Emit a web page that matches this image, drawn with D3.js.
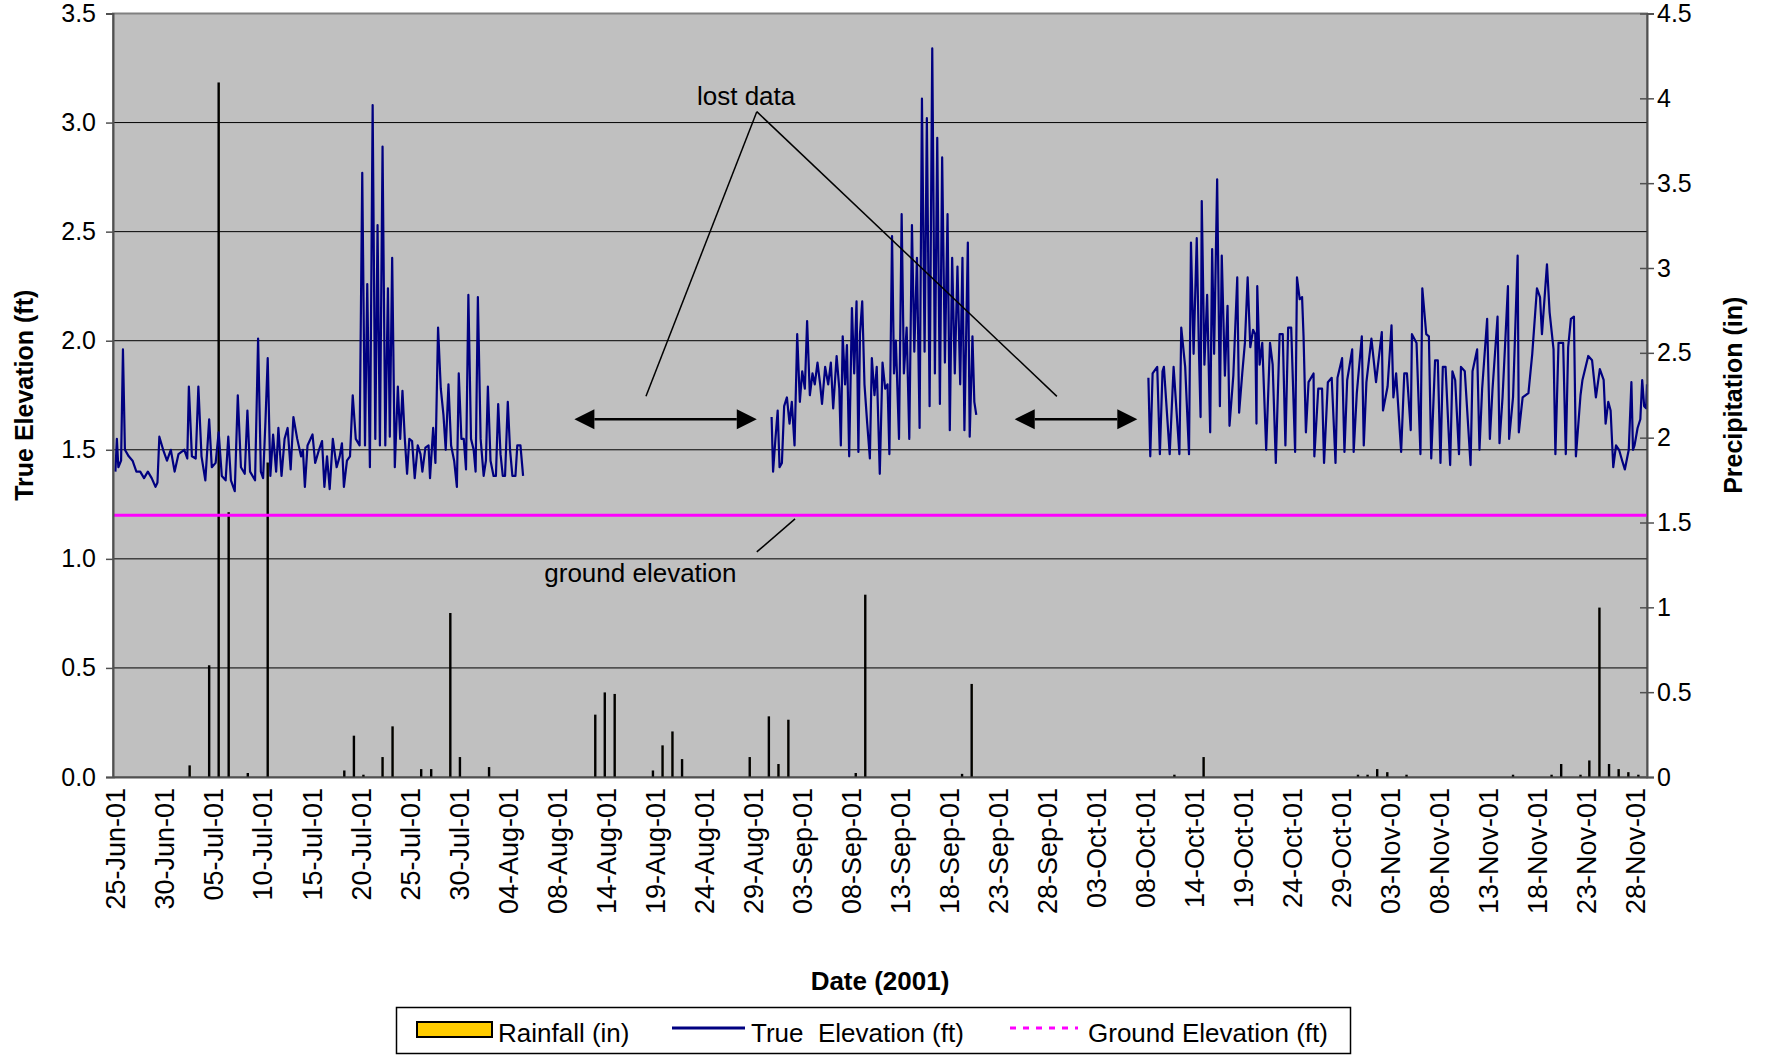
<!DOCTYPE html>
<html>
<head>
<meta charset="utf-8">
<script src="https://cdn.jsdelivr.net/npm/d3@7"></script>
<style>
  body { margin: 0; background: #fff; }
  text { font-family: "Liberation Sans", Arial, sans-serif; fill: #000; }
</style>
</head>
<body>
<div id="chart"></div>
<script>
// x positions are "days since 25-Jun-01" as laid out on the category axis
const dateLabels = ["25-Jun-01","30-Jun-01","05-Jul-01","10-Jul-01","15-Jul-01","20-Jul-01","25-Jul-01","30-Jul-01",
  "04-Aug-01","08-Aug-01","14-Aug-01","19-Aug-01","24-Aug-01","29-Aug-01","03-Sep-01","08-Sep-01","13-Sep-01",
  "18-Sep-01","23-Sep-01","28-Sep-01","03-Oct-01","08-Oct-01","14-Oct-01","19-Oct-01","24-Oct-01","29-Oct-01",
  "03-Nov-01","08-Nov-01","13-Nov-01","18-Nov-01","23-Nov-01","28-Nov-01"];

// true elevation (ft), three recorded stretches separated by lost data
const elevSeg1 = [[0.00,1.40],[0.15,1.55],[0.30,1.42],[0.58,1.45],[0.77,1.96],[0.97,1.50],[1.36,1.47],[1.75,1.45],[2.14,1.40],[2.53,1.40],[2.92,1.37],[3.31,1.40],[3.70,1.37],[4.09,1.33],[4.29,1.35],[4.48,1.56],[4.87,1.50],[5.26,1.45],[5.65,1.50],[6.04,1.40],[6.43,1.48],[7.02,1.50],[7.33,1.46],[7.49,1.79],[7.80,1.47],[8.19,1.46],[8.46,1.79],[8.78,1.47],[9.17,1.36],[9.56,1.64],[9.83,1.42],[10.22,1.44],[10.53,1.58],[10.85,1.38],[11.24,1.36],[11.51,1.56],[11.78,1.36],[12.17,1.31],[12.48,1.75],[12.80,1.42],[13.19,1.39],[13.46,1.68],[13.73,1.40],[14.24,1.36],[14.55,2.01],[14.83,1.40],[15.06,1.37],[15.30,1.63],[15.53,1.92],[15.80,1.38],[16.08,1.57],[16.39,1.40],[16.62,1.60],[16.94,1.38],[17.25,1.55],[17.56,1.60],[17.87,1.41],[18.15,1.65],[18.54,1.55],[18.93,1.47],[19.12,1.50],[19.32,1.33],[19.59,1.52],[20.10,1.57],[20.37,1.44],[20.76,1.50],[21.07,1.54],[21.31,1.33],[21.58,1.47],[21.85,1.32],[22.17,1.55],[22.56,1.42],[22.87,1.47],[23.10,1.53],[23.30,1.33],[23.61,1.45],[23.92,1.47],[24.20,1.75],[24.51,1.55],[24.90,1.52],[25.17,2.77],[25.45,1.52],[25.68,2.26],[25.95,1.42],[26.23,3.08],[26.50,1.55],[26.73,2.53],[26.97,1.52],[27.24,2.89],[27.52,1.52],[27.79,2.24],[27.98,1.56],[28.22,2.38],[28.49,1.42],[28.80,1.79],[29.04,1.55],[29.27,1.77],[29.51,1.55],[29.74,1.39],[29.97,1.55],[30.25,1.54],[30.52,1.37],[30.83,1.52],[31.11,1.48],[31.30,1.40],[31.61,1.51],[31.93,1.52],[32.08,1.37],[32.40,1.60],[32.63,1.44],[32.90,2.06],[33.18,1.78],[33.45,1.66],[33.68,1.50],[33.96,1.80],[34.23,1.52],[34.54,1.45],[34.82,1.33],[35.01,1.85],[35.28,1.55],[35.52,1.55],[35.75,1.41],[35.99,2.21],[36.26,1.55],[36.53,1.50],[36.73,1.40],[36.96,2.20],[37.24,1.55],[37.55,1.38],[37.78,1.45],[37.98,1.79],[38.25,1.45],[38.56,1.38],[38.80,1.38],[39.03,1.71],[39.27,1.48],[39.50,1.38],[39.73,1.38],[40.01,1.72],[40.24,1.50],[40.48,1.38],[40.79,1.38],[40.98,1.52],[41.30,1.52],[41.57,1.38]];

const elevSeg2 = [[66.91,1.65],[67.06,1.40],[67.30,1.55],[67.53,1.68],[67.72,1.42],[67.96,1.44],[68.19,1.70],[68.47,1.74],[68.74,1.62],[68.97,1.72],[69.25,1.52],[69.52,2.03],[69.79,1.72],[70.03,1.86],[70.30,1.78],[70.53,2.09],[70.81,1.75],[71.08,1.85],[71.31,1.80],[71.59,1.90],[71.86,1.80],[72.05,1.71],[72.37,1.88],[72.68,1.80],[72.95,1.90],[73.19,1.69],[73.54,1.93],[73.81,1.78],[73.97,1.52],[74.16,2.02],[74.40,1.80],[74.59,1.98],[74.82,1.47],[75.10,2.15],[75.33,1.85],[75.57,2.18],[75.76,1.49],[75.92,2.03],[76.15,2.18],[76.38,1.80],[76.66,1.62],[76.93,1.46],[77.13,1.92],[77.40,1.75],[77.63,1.88],[77.94,1.39],[78.22,1.90],[78.49,1.78],[78.73,1.80],[78.92,1.48],[79.19,2.48],[79.39,1.85],[79.58,2.00],[79.90,1.55],[80.17,2.58],[80.40,1.85],[80.68,2.06],[80.95,1.55],[81.22,2.53],[81.46,1.95],[81.73,2.38],[82.00,1.60],[82.24,3.11],[82.51,1.95],[82.74,3.02],[83.02,1.70],[83.29,3.34],[83.56,1.85],[83.80,2.93],[84.07,1.71],[84.30,2.84],[84.58,1.90],[84.85,2.58],[85.08,1.59],[85.32,2.38],[85.59,1.85],[85.86,2.34],[86.14,1.80],[86.37,2.38],[86.57,1.59],[86.92,2.45],[87.11,1.56],[87.39,2.02],[87.58,1.72],[87.78,1.66]];

const elevSeg3 = [[105.33,1.83],[105.52,1.47],[105.76,1.85],[106.23,1.88],[106.50,1.48],[106.77,1.86],[106.91,1.88],[107.50,1.48],[107.90,1.88],[108.49,1.48],[108.68,2.06],[109.08,1.88],[109.47,1.48],[109.67,2.45],[109.94,1.94],[110.26,2.47],[110.49,1.94],[110.65,1.65],[110.77,2.64],[111.04,1.89],[111.32,2.21],[111.63,1.58],[111.83,2.42],[112.03,1.94],[112.34,2.74],[112.62,1.70],[112.81,2.39],[113.13,1.84],[113.40,2.16],[113.60,1.61],[113.99,1.84],[114.39,2.29],[114.58,1.67],[114.90,1.85],[115.17,1.99],[115.45,2.29],[115.72,1.97],[116.00,2.05],[116.23,2.03],[116.35,1.62],[116.43,2.25],[116.67,1.89],[116.94,1.99],[117.34,1.50],[117.73,1.99],[118.00,1.89],[118.32,1.44],[118.71,2.03],[119.03,2.03],[119.30,1.52],[119.58,2.06],[119.89,2.06],[120.29,1.49],[120.48,2.29],[120.76,2.19],[121.00,2.20],[121.15,2.02],[121.39,1.58],[121.66,1.81],[122.17,1.85],[122.25,1.47],[122.65,1.78],[123.04,1.78],[123.24,1.44],[123.63,1.81],[124.02,1.83],[124.41,1.44],[124.61,1.83],[125.08,1.92],[125.32,1.49],[125.60,1.82],[126.11,1.96],[126.26,1.49],[126.58,1.76],[127.09,2.02],[127.29,1.52],[127.56,1.81],[128.07,2.01],[128.54,1.81],[129.13,2.04],[129.25,1.68],[129.72,1.79],[130.12,2.07],[130.31,1.74],[130.59,1.85],[131.10,1.49],[131.42,1.85],[131.69,1.85],[132.08,1.59],[132.20,2.03],[132.67,1.99],[133.07,1.48],[133.26,2.24],[133.66,2.03],[133.93,2.02],[134.17,1.46],[134.56,1.91],[134.84,1.91],[135.11,1.44],[135.35,1.88],[135.63,1.88],[136.10,1.43],[136.33,1.86],[136.61,1.82],[137.00,1.48],[137.20,1.88],[137.59,1.86],[138.18,1.43],[138.38,1.86],[138.85,1.96],[139.09,1.50],[139.36,1.78],[139.87,2.10],[140.15,1.55],[140.42,1.78],[140.93,2.11],[141.13,1.53],[141.44,1.74],[141.99,2.25],[142.11,1.55],[142.51,1.74],[142.98,2.39],[143.10,1.58],[143.49,1.74],[144.08,1.76],[144.47,1.94],[144.95,2.24],[145.26,2.20],[145.46,2.03],[145.97,2.35],[146.24,2.13],[146.64,1.96],[146.83,1.48],[147.15,1.99],[147.62,1.99],[147.89,1.48],[148.13,1.97],[148.41,2.10],[148.72,2.11],[148.92,1.47],[149.39,1.75],[149.59,1.82],[150.18,1.93],[150.57,1.91],[150.96,1.74],[151.36,1.87],[151.75,1.82],[151.95,1.62],[152.22,1.72],[152.46,1.68],[152.73,1.42],[153.01,1.52],[153.32,1.50],[153.64,1.45],[153.91,1.41],[154.31,1.50],[154.58,1.81],[154.74,1.50],[154.90,1.52],[155.21,1.60],[155.49,1.64],[155.68,1.82],[155.88,1.70],[156.08,1.69],[156.17,1.80]];

// daily rainfall (in), right axis
const rainfall = [[7.57,0.065],[9.56,0.655],[10.53,4.09],[11.55,1.557],[13.5,0.02],[15.53,1.85],[23.34,0.035],[24.32,0.24],[25.29,0.01],[27.24,0.114],[28.26,0.295],[31.18,0.043],[32.2,0.043],[34.15,0.963],[35.13,0.114],[38.1,0.055],[48.93,0.364],[49.9,0.495],[50.91,0.486],[54.81,0.035],[55.79,0.183],[56.8,0.265],[57.78,0.102],[64.68,0.114],[66.63,0.354],[67.61,0.073],[68.62,0.334],[75.49,0.02],[76.46,1.071],[86.33,0.015],[87.31,0.545],[107.98,0.01],[110.96,0.114],[126.7,0.01],[127.68,0.01],[128.66,0.043],[129.69,0.025],[131.65,0.01],[142.51,0.01],[146.44,0.01],[147.42,0.073],[149.39,0.01],[150.29,0.094],[151.32,0.995],[152.3,0.073],[153.28,0.043],[154.27,0.025],[155.29,0.01]];

const groundElevation = 1.2;
const elevTicks = [0, 0.5, 1.0, 1.5, 2.0, 2.5, 3.0, 3.5];
const precipTicks = [0, 0.5, 1, 1.5, 2, 2.5, 3, 3.5, 4, 4.5];

// annotation anchors in data units (day, ft)
const lostArrows = [[46.8, 65.4], [91.7, 104.2]];
const lostArrowLevel = 1.64;
const lostApex = [65.4, 3.05];
const lostFeet = [[54.1, 1.745], [96.0, 1.745]];
const groundPointer = [[69.3, 1.183], [65.4, 1.032]];

function drawWellChart(containerId) {
  const W = 1765, H = 1055;
  const margin = { top: 13.5, right: 118, bottom: 278, left: 113 },
        width = W - margin.left - margin.right,
        height = H - margin.top - margin.bottom;

  const root = d3.select(`#${containerId}`).append("svg")
      .attr("width", W).attr("height", H);
  const svg = root.append("g")
      .attr("transform", `translate(${margin.left},${margin.top})`);

  const x = d3.scaleLinear().domain([-0.245, 156.17]).range([0, width]);
  const y = d3.scaleLinear().domain([0, 3.5]).range([height, 0]);
  const yR = d3.scaleLinear().domain([0, 4.5]).range([height, 0]);

  // plot area
  svg.append("rect")
      .attr("width", width).attr("height", height)
      .attr("fill", "#c0c0c0")
      .attr("stroke", "#808080").attr("stroke-width", 2);

  // gridlines
  svg.append("g").selectAll("line")
    .data(elevTicks.filter(d => d > 0 && d < 3.5))
    .join("line")
      .attr("x1", 0).attr("x2", width)
      .attr("y1", d => y(d)).attr("y2", d => y(d))
      .attr("stroke", "#000").attr("stroke-width", 1);

  // rainfall bars
  svg.append("g").selectAll("rect")
    .data(rainfall)
    .join("rect")
      .attr("x", d => x(d[0]) - 0.6)
      .attr("width", 1.2)
      .attr("y", d => yR(d[1]))
      .attr("height", d => height - yR(d[1]))
      .attr("fill", "#ffcc00")
      .attr("stroke", "#000").attr("stroke-width", 1.2);

  // ground elevation
  svg.append("line")
      .attr("x1", 0).attr("x2", width)
      .attr("y1", y(groundElevation)).attr("y2", y(groundElevation))
      .attr("stroke", "#ff00ff").attr("stroke-width", 3);

  // true elevation
  const line = d3.line().x(d => x(d[0])).y(d => y(d[1]));
  svg.append("g").selectAll("path")
    .data([elevSeg1, elevSeg2, elevSeg3])
    .join("path")
      .attr("d", line)
      .attr("fill", "none")
      .attr("stroke", "#000080")
      .attr("stroke-width", 2.2)
      .attr("stroke-linejoin", "round");

  // annotations
  const ann = svg.append("g").attr("stroke", "#000").attr("stroke-width", 1.5);
  lostFeet.forEach(f => {
    ann.append("line")
        .attr("x1", x(lostApex[0])).attr("y1", y(lostApex[1]))
        .attr("x2", x(f[0])).attr("y2", y(f[1]));
  });
  ann.append("line")
      .attr("x1", x(groundPointer[0][0])).attr("y1", y(groundPointer[0][1]))
      .attr("x2", x(groundPointer[1][0])).attr("y2", y(groundPointer[1][1]));

  const ay = y(lostArrowLevel), ah = 20, aw = 10;
  lostArrows.forEach(([a, b]) => {
    const x0 = x(a), x1 = x(b);
    ann.append("line").attr("x1", x0 + ah).attr("x2", x1 - ah)
        .attr("y1", ay).attr("y2", ay).attr("stroke-width", 2.5);
    ann.append("path")
        .attr("d", `M${x0},${ay}L${x0 + ah},${ay - aw}L${x0 + ah},${ay + aw}Z
                    M${x1},${ay}L${x1 - ah},${ay - aw}L${x1 - ah},${ay + aw}Z`)
        .attr("fill", "#000").attr("stroke", "none");
  });

  svg.append("text")
      .attr("x", x(59.3)).attr("y", y(3.082))
      .style("font-size", "26px")
      .text("lost data");
  svg.append("text")
      .attr("x", x(43.73)).attr("y", y(0.896))
      .style("font-size", "26px")
      .text("ground elevation");

  // left axis
  const yAxis = svg.append("g")
      .call(d3.axisLeft(y).tickValues(elevTicks).tickFormat(d3.format(".1f"))
        .tickSize(7).tickPadding(10));
  yAxis.select(".domain").attr("stroke", "#505050").attr("stroke-width", 2);
  yAxis.selectAll(".tick line").attr("stroke", "#505050").attr("stroke-width", 1.5);
  yAxis.selectAll("text").style("font-size", "25px").attr("fill", "#000");

  // right axis
  const yRAxis = svg.append("g")
      .attr("transform", `translate(${width},0)`)
      .call(d3.axisRight(yR).tickValues(precipTicks).tickFormat(d => String(d))
        .tickSize(7).tickPadding(3));
  yRAxis.select(".domain").attr("stroke", "#505050").attr("stroke-width", 2);
  yRAxis.selectAll(".tick line").attr("x1", -7).attr("stroke", "#505050").attr("stroke-width", 1.5);
  yRAxis.selectAll("text").style("font-size", "25px").attr("fill", "#000");

  // bottom axis, category labels every 5 days
  const xAxis = svg.append("g")
      .attr("transform", `translate(0,${height})`)
      .call(d3.axisBottom(x).tickValues(d3.range(0, 156, 5))
        .tickFormat((d, i) => dateLabels[i]).tickSize(0));
  xAxis.select(".domain").attr("stroke", "#505050").attr("stroke-width", 2);
  xAxis.selectAll("text")
      .attr("transform", "rotate(-90)")
      .attr("x", -11).attr("y", 0).attr("dy", "0.35em")
      .style("text-anchor", "end")
      .style("font-size", "27px")
      .attr("fill", "#000");

  // axis titles
  root.append("text")
      .attr("transform", `translate(33,${margin.top + height / 2}) rotate(-90)`)
      .attr("text-anchor", "middle")
      .style("font-size", "25px").style("font-weight", "bold")
      .text("True Elevation (ft)");
  root.append("text")
      .attr("transform", `translate(1742,${margin.top + height / 2}) rotate(-90)`)
      .attr("text-anchor", "middle")
      .style("font-size", "25px").style("font-weight", "bold")
      .text("Precipitation (in)");
  root.append("text")
      .attr("x", margin.left + width / 2).attr("y", 990)
      .attr("text-anchor", "middle")
      .style("font-size", "26px").style("font-weight", "bold")
      .text("Date (2001)");

  // legend
  const lg = root.append("g");
  lg.append("rect")
      .attr("x", 396.5).attr("y", 1007.5).attr("width", 954).attr("height", 46)
      .attr("fill", "#fff").attr("stroke", "#000").attr("stroke-width", 1.5);
  lg.append("rect")
      .attr("x", 417).attr("y", 1022).attr("width", 75).attr("height", 15)
      .attr("fill", "#ffcc00").attr("stroke", "#000").attr("stroke-width", 2);
  lg.append("line")
      .attr("x1", 672).attr("x2", 745).attr("y1", 1028).attr("y2", 1028)
      .attr("stroke", "#000080").attr("stroke-width", 3);
  lg.append("line")
      .attr("x1", 1010).attr("x2", 1078).attr("y1", 1028).attr("y2", 1028)
      .attr("stroke", "#ff00ff").attr("stroke-width", 3).attr("stroke-dasharray", "6,7");
  const legendText = [[498, "Rainfall (in)"], [751, "True  Elevation (ft)"], [1088, "Ground Elevation (ft)"]];
  lg.selectAll("text.lbl")
    .data(legendText)
    .join("text")
      .attr("class", "lbl")
      .attr("x", d => d[0]).attr("y", 1042)
      .style("font-size", "26px")
      .style("white-space", "pre")
      .attr("xml:space", "preserve")
      .text(d => d[1]);
}

document.addEventListener("DOMContentLoaded", function () {
  drawWellChart("chart");
});
</script>
</body>
</html>
